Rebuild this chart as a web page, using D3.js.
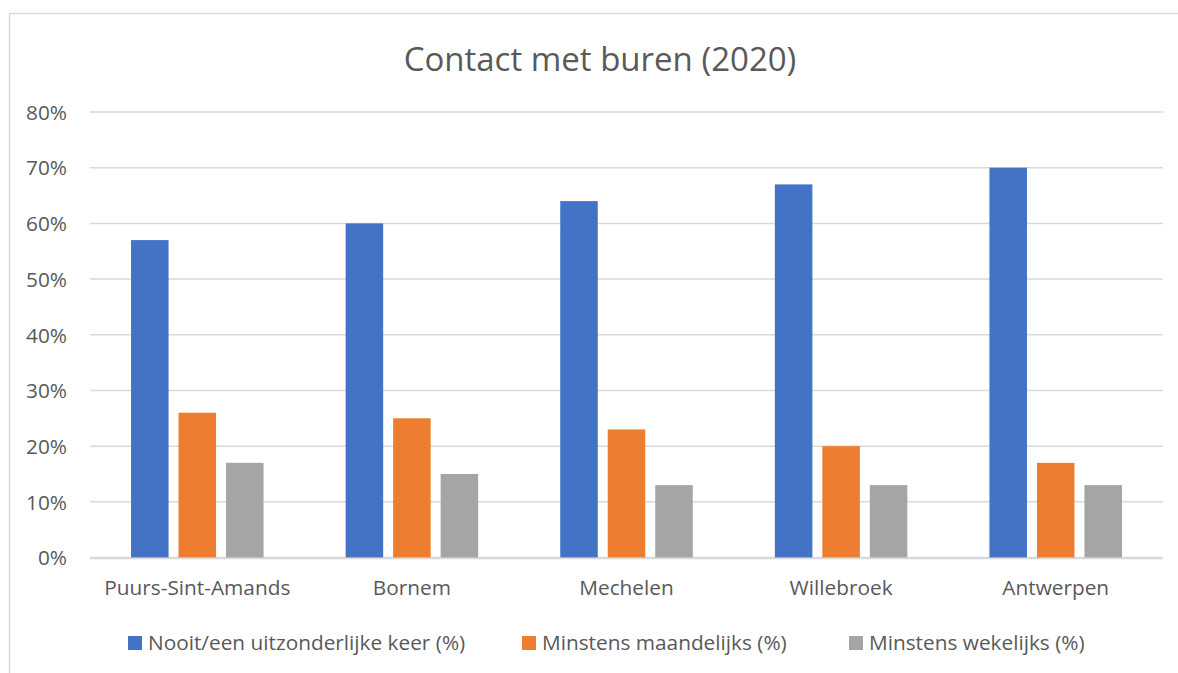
<!DOCTYPE html>
<meta charset="utf-8">
<style>
  body { margin: 0; background: #fff; }
  text { font-family: "Open Sans", sans-serif; fill: #595959; }
  .grid line { stroke: #d9d9d9; stroke-width: 1.5px; }
</style>
<body>
<script src="https://d3js.org/d3.v7.min.js"></script>
<script>
  // chart data
  var categories = ["Puurs-Sint-Amands", "Bornem", "Mechelen", "Willebroek", "Antwerpen"];
  var seriesNames = ["Nooit/een uitzonderlijke keer (%)", "Minstens maandelijks (%)", "Minstens wekelijks (%)"];
  var nooit = [57, 60, 64, 67, 70];
  var maandelijks = [26, 25, 23, 20, 17];
  var wekelijks = [17, 15, 13, 13, 13];
  var yTicks = [0, 10, 20, 30, 40, 50, 60, 70, 80];
  var colors = ["#4472c4", "#ed7d31", "#a5a5a5"];

  var series = [nooit, maandelijks, wekelijks];

  var width = 1178, height = 673;
  var margin = {top: 112, right: 15, bottom: 115, left: 90};
  var labelSize = "20.8px";

  var svg = d3.select("body").append("svg")
    .attr("width", width)
    .attr("height", height);

  // outer frame
  svg.append("rect")
    .attr("x", 9.5).attr("y", 13.5)
    .attr("width", width).attr("height", height)
    .attr("fill", "none").attr("stroke", "#d9d9d9").attr("stroke-width", 1.5);

  svg.append("text")
    .attr("x", 600).attr("y", 71)
    .attr("text-anchor", "middle")
    .style("font-size", "33px")
    .text("Contact met buren (2020)");

  var x = d3.scaleBand()
    .domain(categories)
    .range([margin.left, width - margin.right]);

  var y = d3.scaleLinear()
    .domain([0, 80])
    .range([height - margin.bottom - 0.5, margin.top]);

  var x1 = d3.scaleBand()
    .domain(d3.range(series.length))
    .range([0, x.bandwidth()])
    .paddingInner(0.21)
    .paddingOuter(0.864);

  // gridlines
  var grid = svg.append("g").attr("class", "grid");
  grid.selectAll("line")
    .data(yTicks)
    .enter().append("line")
    .attr("x1", margin.left).attr("x2", width - margin.right)
    .attr("y1", function (d) { return y(d); })
    .attr("y2", function (d) { return y(d); });

  // y labels
  svg.append("g")
    .attr("transform", "translate(" + (margin.left - 23) + ",0)")
    .call(d3.axisLeft(y).tickValues(yTicks).tickSize(0).tickPadding(0)
      .tickFormat(function (d) { return d + "%"; }))
    .call(function (g) { g.select(".domain").remove(); })
    .selectAll("text")
    .attr("dy", "0.35em")
    .style("font-size", labelSize)
    .style("font-family", "'Open Sans', sans-serif")
    .attr("fill", "#595959");

  // bars
  var groups = svg.selectAll(".cat")
    .data(categories)
    .enter().append("g")
    .attr("class", "cat")
    .attr("transform", function (d) { return "translate(" + x(d) + ",0)"; });

  groups.selectAll("rect")
    .data(function (d, i) { return series.map(function (s, j) { return {j: j, v: s[i]}; }); })
    .enter().append("rect")
    .attr("x", function (d) { return x1(d.j); })
    .attr("width", x1.bandwidth())
    .attr("y", function (d) { return y(d.v); })
    .attr("height", function (d) { return y(0) - y(d.v); })
    .attr("fill", function (d) { return colors[d.j]; });

  // baseline
  svg.append("line")
    .attr("x1", margin.left).attr("x2", width - margin.right)
    .attr("y1", y(0) + 1).attr("y2", y(0) + 1)
    .attr("stroke", "#d9d9d9").attr("stroke-width", 1.5);

  // x labels
  svg.append("g")
    .attr("transform", "translate(0," + (y(0) + 19) + ")")
    .call(d3.axisBottom(x).tickSize(0).tickPadding(0))
    .call(function (g) { g.select(".domain").remove(); })
    .selectAll("text")
    .attr("dy", "0.9em")
    .style("font-size", labelSize)
    .style("font-family", "'Open Sans', sans-serif")
    .attr("fill", "#595959");

  // legend
  var legendX = [128, 522, 849];
  var legend = svg.selectAll(".legend")
    .data(seriesNames)
    .enter().append("g")
    .attr("class", "legend")
    .attr("transform", function (d, i) { return "translate(" + legendX[i] + ",636)"; });

  legend.append("rect")
    .attr("width", 14).attr("height", 14)
    .attr("fill", function (d, i) { return colors[i]; });

  legend.append("text")
    .attr("x", 20).attr("y", 14)
    .style("font-size", labelSize)
    .text(function (d) { return d; });
</script>
</body>
